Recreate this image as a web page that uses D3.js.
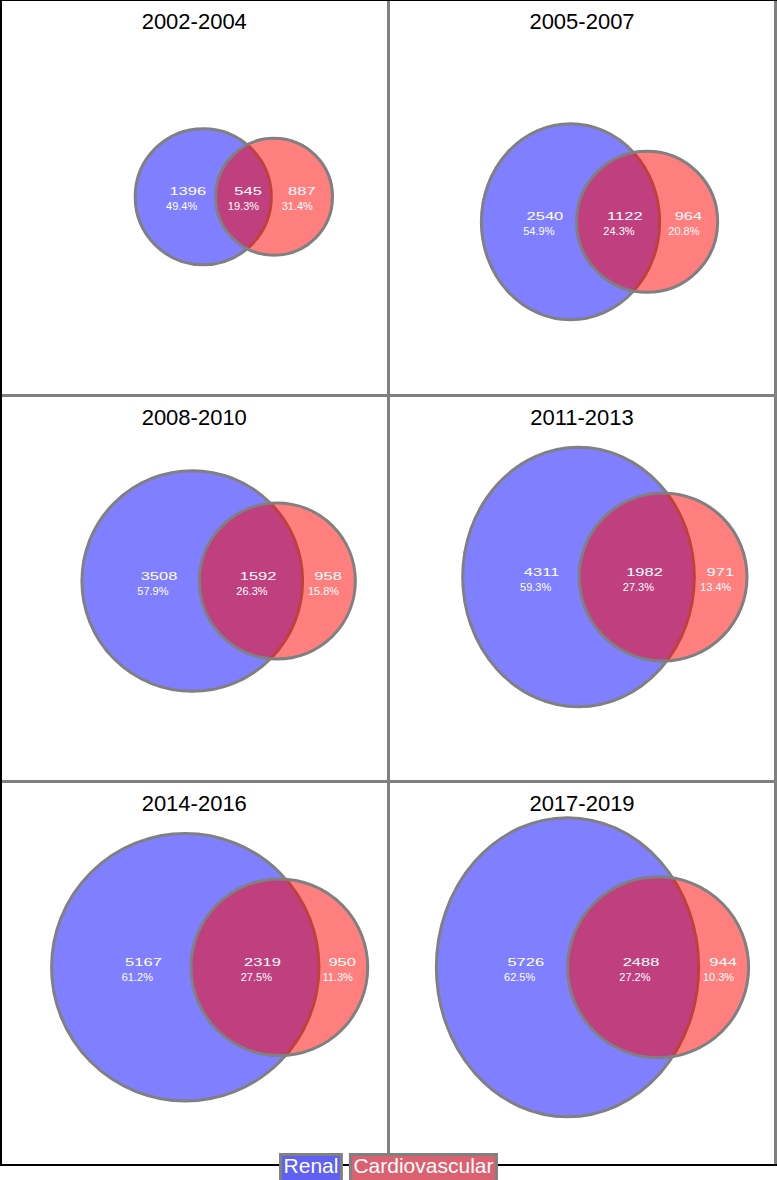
<!DOCTYPE html>
<html><head><meta charset="utf-8">
<script src="https://d3js.org/d3.v7.min.js"></script>
<style>html,body{margin:0;padding:0;background:#fff;} svg{display:block;}</style>
</head><body>
<svg id="chart" width="777" height="1180"></svg>
<script>
// ---------------- data ----------------
const periods    = ["2002-2004","2005-2007","2008-2010","2011-2013","2014-2016","2017-2019"];
const sets       = ["Renal","Cardiovascular"];
const renalOnly  = [1396, 2540, 3508, 4311, 5167, 5726];
const bothSets   = [545, 1122, 1592, 1982, 2319, 2488];
const cardioOnly = [887, 964, 958, 971, 950, 944];

// ---------------- layout (fitted Euler shapes; not data) ----------------
const AREA_PER_CASE = 7.5;                                        // px^2 per case, shared by all panels
const blueOffset = [[9,-1],[-11.5,24],[-2,-7.5],[-3.5,-11.5],[-9,-6],[-14.5,-6]]; // Renal centre vs panel centre
const blueAspect = [1.0, 1.1, 1.0, 1.12, 1.0, 1.14];             // ry/rx of the Renal ellipse

const W = 777, H = 1180;
const colX = [0, 388.5, 775.5];
const rowY = [0, 395.5, 781.5, 1165];

const svg = d3.select("#chart");
const FONT = "'Liberation Sans', Arial, Helvetica, sans-serif";
const pct = d3.format(".1%");
const area = d3.scaleLinear().domain([0, 1]).range([0, AREA_PER_CASE]);

function shapeFromArea(a, aspect) { const rx = Math.sqrt(a / (Math.PI * aspect)); return {rx, ry: rx * aspect}; }
function overlapArea(b, r) {
  const y0 = Math.max(b.cy - b.ry, r.cy - r.ry), y1 = Math.min(b.cy + b.ry, r.cy + r.ry);
  if (y1 <= y0) return 0;
  const n = 800, h = (y1 - y0) / n; let s = 0;
  for (let i = 0; i < n; i++) {
    const y = y0 + (i + 0.5) * h;
    const tb = 1 - ((y - b.cy) / b.ry) ** 2, tr = 1 - ((y - r.cy) / r.ry) ** 2;
    if (tb <= 0 || tr <= 0) continue;
    const wb = b.rx * Math.sqrt(tb), wr = r.rx * Math.sqrt(tr);
    const L = Math.max(b.cx - wb, r.cx - wr), R = Math.min(b.cx + wb, r.cx + wr);
    if (R > L) s += (R - L) * h;
  }
  return s;
}
function inside(e, x, y) { return ((x - e.cx) / e.rx) ** 2 + ((y - e.cy) / e.ry) ** 2 <= 1; }
function edgeDist(e, x, y) {
  const dx = x - e.cx, dy = y - e.cy, q = Math.sqrt((dx / e.rx) ** 2 + (dy / e.ry) ** 2);
  if (q === 0) return Math.min(e.rx, e.ry);
  return Math.abs(1 - 1 / q) * Math.hypot(dx, dy);
}
// label point: x midway between pole of inaccessibility and centroid, y at the centroid
function labelPoint(test, shapes, x0, x1, y0, y1) {
  let best = null, bd = -1, sx = 0, sy = 0, n = 0;
  for (let x = x0; x <= x1; x += 1) for (let y = y0; y <= y1; y += 1) {
    if (!test(x, y)) continue;
    sx += x; sy += y; n++;
    const d = Math.min(edgeDist(shapes[0], x, y), edgeDist(shapes[1], x, y));
    if (d > bd) { bd = d; best = [x, y]; }
  }
  if (!n) return [(x0 + x1) / 2, (y0 + y1) / 2];
  return [(best[0] + sx / n) / 2, sy / n];
}

periods.forEach((period, i) => {
  const c = i % 2, r = Math.floor(i / 2);
  const x0 = colX[c], x1 = colX[c + 1], y0 = rowY[r];
  const pcx = (x0 + x1) / 2, pcy = (y0 + rowY[r + 1]) / 2;
  const renalTotal = renalOnly[i] + bothSets[i], cardioTotal = cardioOnly[i] + bothSets[i];
  const total = renalOnly[i] + bothSets[i] + cardioOnly[i];

  const b = Object.assign({cx: pcx + blueOffset[i][0], cy: pcy + blueOffset[i][1]}, shapeFromArea(area(renalTotal), blueAspect[i]));
  const rr = Object.assign({cy: b.cy}, shapeFromArea(area(cardioTotal), 1));
  const target = area(bothSets[i]);
  let lo = 0, hi = b.rx + rr.rx;
  for (let k = 0; k < 40; k++) {
    const mid = (lo + hi) / 2; rr.cx = b.cx + mid;
    if (overlapArea(b, rr) > target) lo = mid; else hi = mid;
  }
  rr.cx = b.cx + (lo + hi) / 2;

  const g = svg.append("g");
  g.append("ellipse").attr("cx", b.cx).attr("cy", b.cy).attr("rx", b.rx).attr("ry", b.ry)
    .attr("fill", "rgba(0,0,255,0.5)").attr("stroke", "#808080").attr("stroke-width", 3);
  g.append("ellipse").attr("cx", rr.cx).attr("cy", rr.cy).attr("rx", rr.rx).attr("ry", rr.ry)
    .attr("fill", "rgba(255,0,0,0.5)").attr("stroke", "#808080").attr("stroke-width", 3);

  const bx0 = Math.floor(b.cx - b.rx), bx1 = Math.ceil(Math.max(b.cx + b.rx, rr.cx + rr.rx));
  const by0 = Math.floor(b.cy - Math.max(b.ry, rr.ry)), by1 = Math.ceil(b.cy + Math.max(b.ry, rr.ry));
  const regions = [
    {n: renalOnly[i],  test: (x, y) => inside(b, x, y) && !inside(rr, x, y)},
    {n: bothSets[i],   test: (x, y) => inside(b, x, y) && inside(rr, x, y)},
    {n: cardioOnly[i], test: (x, y) => !inside(b, x, y) && inside(rr, x, y)}
  ];
  regions.forEach(reg => {
    const [lx, ly] = labelPoint(reg.test, [b, rr], bx0, bx1, by0, by1);
    const t = g.append("text").text(reg.n).attr("font-family", FONT).attr("font-size", 11)
      .attr("fill", "#fff").attr("text-anchor", "start");
    const w = t.node().getComputedTextLength();
    t.attr("transform", `translate(${lx - w / 2},${ly - 1.5}) scale(1.5,1)`);
    g.append("text").text(pct(reg.n / total)).attr("x", lx).attr("y", ly + 13.5)
      .attr("font-family", FONT).attr("font-size", 11).attr("fill", "#fff").attr("text-anchor", "middle");
  });

  svg.append("text").text(period).attr("x", pcx).attr("y", y0 + 29)
    .attr("font-family", FONT).attr("font-size", 22).attr("fill", "#000").attr("text-anchor", "middle");
});

const grid = svg.append("g").attr("stroke", "#808080").attr("stroke-width", 3);
grid.append("line").attr("x1", colX[1]).attr("x2", colX[1]).attr("y1", 0).attr("y2", rowY[3]);
grid.append("line").attr("x1", colX[2]).attr("x2", colX[2]).attr("y1", 0).attr("y2", rowY[3]);
[rowY[1], rowY[2]].forEach(y => grid.append("line").attr("x1", 0).attr("x2", colX[2]).attr("y1", y).attr("y2", y));
const frame = svg.append("g").attr("stroke", "#000").attr("stroke-width", 2);
frame.append("line").attr("x1", 0).attr("x2", W).attr("y1", 0).attr("y2", 0);
frame.append("line").attr("x1", 1).attr("x2", 1).attr("y1", 0).attr("y2", rowY[3]);
frame.append("line").attr("x1", 0).attr("x2", W).attr("y1", rowY[3]).attr("y2", rowY[3]);

const legendFill = ["#6060f2", "#dc6170"];
const lg = svg.append("g");
const items = sets.map((s, k) => {
  const t = lg.append("text").text(s).attr("font-family", FONT).attr("font-size", 21).attr("fill", "#fff");
  return {t, w: t.node().getComputedTextLength(), k};
});
const pad = 3, gap = 9;
const totalW = d3.sum(items, d => d.w + 2 * pad) + gap;
let lx = 388.5 - totalW / 2;
items.forEach(d => {
  lg.insert("rect", "text").attr("x", lx).attr("y", 1154.5).attr("width", d.w + 2 * pad).attr("height", 40)
    .attr("fill", legendFill[d.k]).attr("stroke", "#808080").attr("stroke-width", 3);
  d.t.attr("x", lx + pad).attr("y", 1173);
  lx += d.w + 2 * pad + gap;
});
</script>
</body></html>
